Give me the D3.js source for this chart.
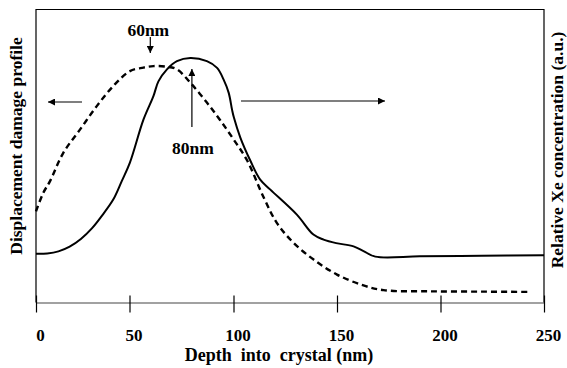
<!DOCTYPE html>
<html>
<head>
<meta charset="utf-8">
<script src="https://cdn.jsdelivr.net/npm/d3@7"></script>
<style>
  body { margin: 0; background: #fff; }
  text { font-family: "Liberation Serif", "Times New Roman", serif; font-weight: bold; fill: #000; }
</style>
</head>
<body>
<svg width="567" height="368"></svg>
<script>
// 軸の目盛り
const xTicks = [0, 50, 100, 150, 200, 250];

// 変位損傷プロファイル（点線, 左軸, 任意単位）
const damageDepth = [0, 3.9, 7.5, 14.6, 23.5, 32.5, 41.3, 50.2, 56.7, 61.5, 68, 72.8, 79.2, 87.2, 93.7, 100.1, 106.6, 114.6, 121, 129, 138.7, 150, 162.8, 172.5, 195, 220, 243.2];
const damageValue = [31, 37.3, 41.3, 50.9, 58.8, 66.8, 73.6, 78.7, 79.9, 80.4, 80.2, 79.3, 74.8, 68, 61.9, 55.4, 48.3, 35.7, 27, 20.3, 14.6, 9.5, 5.8, 4.2, 3.8, 3.7, 3.6];

// Xe濃度（実線, 右軸, 任意単位）
const xeDepth = [0, 6, 12, 18, 24, 30, 35, 41.3, 45.8, 50.2, 56.7, 61.5, 63.9, 68, 72.8, 79.2, 87.2, 92.1, 95.2, 97.7, 99.3, 100.2, 103.3, 108.1, 112.9, 117.8, 130.6, 138.6, 143.5, 149.6, 158, 162.8, 168.5, 190, 220, 250];
const xeValue = [16.6, 16.7, 17.4, 19.0, 21.6, 25.3, 29.3, 35, 41.2, 47.6, 62.2, 70.2, 75.2, 79.3, 82.1, 83.2, 82.1, 79.8, 75.9, 71.3, 65.6, 62.9, 56.1, 48.3, 41.8, 38.4, 29.9, 23.1, 21.4, 20.2, 19.1, 17.5, 15.6, 15.7, 15.9, 16.1];

// 注釈（ピーク位置）
const peakLabels = [
    { text: "60nm", depth: 60 },
    { text: "80nm", depth: 80 }
];

const svg = d3.select("svg");
const serif = "'Liberation Serif', 'Times New Roman', serif";

// 枠の位置
const frameLeft = 36, frameRight = 544, frameTop = 9.5, frameBottom = 302.5;

// x軸は元図に合わせて区分線形
const x = d3.scaleLinear()
    .domain(xTicks)
    .range([36, 129.5, 233.5, 337, 440.5, 544]);
const yL = d3.scaleLinear().domain([0, 100]).range([frameBottom, frameBottom - 294]);
const yR = d3.scaleLinear().domain([0, 100]).range([frameBottom, frameBottom - 294]);

// 矢印マーカー
svg.append("defs").append("marker")
    .attr("id", "arrow")
    .attr("viewBox", "0 -5 10 10")
    .attr("refX", 10)
    .attr("refY", 0)
    .attr("markerWidth", 9)
    .attr("markerHeight", 7)
    .attr("markerUnits", "userSpaceOnUse")
    .attr("orient", "auto")
    .append("path")
    .attr("d", "M0,-5L10,0L0,5Z")
    .attr("fill", "#000");

// 枠
svg.append("path")
    .attr("d", `M${frameLeft},${frameBottom}V${frameTop}H${frameRight}V${frameBottom}`)
    .attr("fill", "none")
    .attr("stroke", "#000")
    .attr("stroke-width", 1.2);

// x軸
const xAxis = svg.append("g")
    .attr("transform", `translate(0,${frameBottom})`)
    .attr("font-family", serif)
    .call(d3.axisBottom(x).tickValues(xTicks).tickFormat(d3.format("d")).tickSizeOuter(0));
xAxis.select(".domain").attr("stroke", "#444").attr("stroke-width", 1.2);
xAxis.selectAll(".tick line").attr("y1", -7).attr("y2", 10).attr("stroke", "#000").attr("stroke-width", 1.2);
xAxis.selectAll(".tick text")
    .attr("y", 38)
    .attr("dy", 0)
    .attr("dx", 4)
    .attr("font-family", serif)
    .attr("font-weight", "bold")
    .attr("font-size", 17);

// 軸タイトル
svg.append("text")
    .attr("x", 279)
    .attr("y", 361)
    .attr("text-anchor", "middle")
    .attr("font-family", serif)
    .attr("font-size", 18)
    .style("white-space", "pre")
    .text("Depth  into  crystal (nm)");

svg.append("text")
    .attr("transform", "translate(22,146) rotate(-90)")
    .attr("text-anchor", "middle")
    .attr("font-family", serif)
    .attr("font-size", 17.5)
    .text("Displacement damage profile");

svg.append("text")
    .attr("transform", "translate(563,150) rotate(-90)")
    .attr("text-anchor", "middle")
    .attr("font-family", serif)
    .attr("font-size", 17.5)
    .text("Relative Xe concentration (a.u.)");

// 曲線
const damageLine = d3.line()
    .x((d, i) => x(damageDepth[i]))
    .y(d => yL(d))
    .curve(d3.curveCatmullRom.alpha(0.5));

const xeLine = d3.line()
    .x((d, i) => x(xeDepth[i]))
    .y(d => yR(d))
    .curve(d3.curveCatmullRom.alpha(0.5));

svg.append("path")
    .datum(damageValue)
    .attr("d", damageLine)
    .attr("fill", "none")
    .attr("stroke", "#000")
    .attr("stroke-width", 2.4)
    .attr("stroke-dasharray", "6,4");

svg.append("path")
    .datum(xeValue)
    .attr("d", xeLine)
    .attr("fill", "none")
    .attr("stroke", "#000")
    .attr("stroke-width", 2);

// 左右の軸を示す矢印
svg.append("line")
    .attr("x1", 82).attr("y1", 102).attr("x2", 48).attr("y2", 102)
    .attr("stroke", "#000").attr("stroke-width", 1.2)
    .attr("marker-end", "url(#arrow)");
svg.append("line")
    .attr("x1", 241).attr("y1", 101).attr("x2", 385).attr("y2", 101)
    .attr("stroke", "#000").attr("stroke-width", 1.2)
    .attr("marker-end", "url(#arrow)");

// ピーク注釈
const p60 = peakLabels[0], p80 = peakLabels[1];
svg.append("text")
    .attr("x", x(p60.depth) - 2)
    .attr("y", 36)
    .attr("text-anchor", "middle")
    .attr("font-family", serif)
    .attr("font-size", 17.5)
    .text(p60.text);
svg.append("line")
    .attr("x1", x(p60.depth)).attr("y1", 37).attr("x2", x(p60.depth)).attr("y2", 53)
    .attr("stroke", "#000").attr("stroke-width", 1.2)
    .attr("marker-end", "url(#arrow)");

svg.append("text")
    .attr("x", x(p80.depth) + 1)
    .attr("y", 154)
    .attr("text-anchor", "middle")
    .attr("font-family", serif)
    .attr("font-size", 17.5)
    .text(p80.text);
svg.append("line")
    .attr("x1", x(p80.depth)).attr("y1", 127).attr("x2", x(p80.depth)).attr("y2", 69)
    .attr("stroke", "#000").attr("stroke-width", 1.2)
    .attr("marker-end", "url(#arrow)");
</script>
</body>
</html>
